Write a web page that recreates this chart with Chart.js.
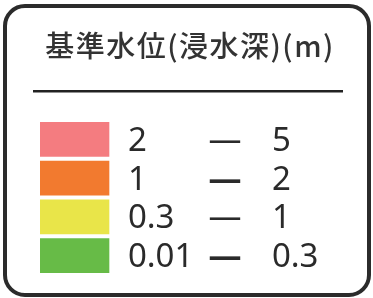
<!DOCTYPE html>
<html><head><meta charset="utf-8">
<script src="https://cdn.jsdelivr.net/npm/chart.js@4/dist/chart.umd.min.js"></script>
<style>html,body{margin:0;padding:0;background:#fff;}#wrap{width:373px;height:298px;position:relative;}</style>
</head><body><div id="wrap"><canvas id="c" width="373" height="298"></canvas></div>
<script>
const titleText = '基準水位(浸水深)(m)';
const categories = ['2 — 5', '1 — 2', '0.3 — 1', '0.01 — 0.3'];
const lowerLabels = ['2', '1', '0.3', '0.01'];
const upperLabels = ['5', '2', '1', '0.3'];
const swatchValues = [[0, 23], [0, 23], [0, 23], [0, 23]];
const colors = ['#F47C80', '#F27A2F', '#E9E549', '#67BB47'];
const dashWeights = ['normal', 'bold', 'normal', 'bold'];

const framePlugin = {
  id: 'frame',
  beforeDraw(chart) {
    const ctx = chart.ctx;
    ctx.save();
    ctx.fillStyle = '#fff';
    ctx.fillRect(0, 0, chart.width, chart.height);
    ctx.strokeStyle = '#2b2b2b';
    ctx.lineWidth = 4;
    ctx.beginPath();
    ctx.roundRect(5, 6, 364, 289, 20);
    ctx.stroke();
    ctx.strokeStyle = '#222';
    ctx.lineWidth = 2.5;
    ctx.beginPath();
    ctx.moveTo(33, 91.3);
    ctx.lineTo(343, 91.3);
    ctx.stroke();
    // title
    ctx.fillStyle = '#333';
    ctx.font = '500 29px "Noto Sans CJK JP"';
    ctx.letterSpacing = '1.5px';
    ctx.textAlign = 'center';
    ctx.textBaseline = 'middle';
    ctx.fillText(titleText, 190, 46);
    ctx.restore();
  },
  afterDatasetsDraw(chart) {
    const ctx = chart.ctx;
    const xs = chart.scales.x, ys = chart.scales.y;
    ctx.save();
    ctx.fillStyle = '#2a2a2a';
    ctx.textBaseline = 'middle';
    categories.forEach((c, i) => {
      const y = ys.getPixelForValue(i) + 2;
      ctx.font = '33px "Noto Sans"';
      ctx.textAlign = 'left';
      ctx.fillText(lowerLabels[i], xs.getPixelForValue(29.3), y);
      ctx.fillText(upperLabels[i], xs.getPixelForValue(77.3), y);
      ctx.font = dashWeights[i] + ' 33px "Noto Sans"';
      ctx.textAlign = 'center';
      ctx.fillText('—', xs.getPixelForValue(61.7), y);
    });
    ctx.restore();
  }
};

new Chart(document.getElementById('c'), {
  type: 'bar',
  data: {
    labels: categories,
    datasets: [{
      data: swatchValues,
      backgroundColor: colors,
      borderWidth: 0,
      barThickness: 34
    }]
  },
  options: {
    responsive: false,
    animation: false,
    indexAxis: 'y',
    layout: { padding: { left: 40, right: 33, top: 120, bottom: 23 } },
    scales: {
      x: { display: false, min: 0, max: 100 },
      y: { display: false }
    },
    plugins: {
      legend: { display: false },
      tooltip: { enabled: false },
      title: { display: false }
    }
  },
  plugins: [framePlugin]
});
</script></body></html>
